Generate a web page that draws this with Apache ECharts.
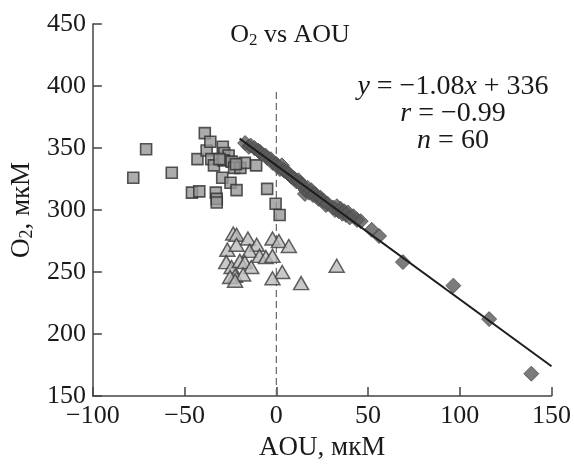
<!DOCTYPE html>
<html>
<head>
<meta charset="utf-8">
<script src="https://cdn.jsdelivr.net/npm/echarts@6/dist/echarts.min.js"></script>
<style>
  html, body { margin: 0; padding: 0; background: #fff; }
  #chart { width: 574px; height: 466px; }
</style>
</head>
<body>
<div id="chart"></div>
<script>
// Axis ticks
const xTicks = [-100, -50, 0, 50, 100, 150];
const yTicks = [150, 200, 250, 300, 350, 400, 450];

// Surface-layer samples (squares)
const squares = [
  [-78, 326], [-71, 349], [-57, 330], [-46, 314], [-42, 315], [-43, 341],
  [-39, 362], [-38, 348], [-36, 355], [-35.5, 341], [-34, 336], [-33, 314],
  [-32.5, 309], [-32.5, 306], [-29.2, 351], [-28.4, 346], [-26, 344],
  [-28.8, 340], [-24.4, 339], [-23, 334], [-19.6, 334], [-17.2, 338],
  [-11, 336], [-29.5, 326], [-25, 322], [-21.7, 316], [-5, 317],
  [-0.4, 305], [1.8, 296], [-22, 337], [-31, 341]
];

// Intermediate samples (triangles)
const triangles = [
  [-23.5, 281], [-21.7, 280], [-15.5, 277], [-10.7, 272], [-2.1, 277],
  [1.4, 275], [6.8, 271], [-26.7, 268], [-21.7, 272], [-14.6, 267],
  [-9.2, 263], [-5.7, 262], [-2.1, 263], [-27.3, 258], [-24.4, 254],
  [-19.9, 259], [-17.2, 258], [-13.7, 254], [-22.5, 247], [-18.1, 248],
  [3.2, 250], [-2.1, 245], [13.5, 241], [32.9, 255], [-25.2, 246],
  [-22.5, 243]
];

// Deep samples used in the regression (diamonds)
const diamonds = [
  [-17, 354], [-15, 351], [-14, 352], [-12, 350], [-10, 348], [-9, 347],
  [-8, 345], [-6, 344], [-5, 342], [-3, 341], [-2, 338], [0, 337],
  [1, 335], [2, 333], [3, 336], [4, 332], [5, 331], [6, 330], [7, 329],
  [8, 327], [9, 326], [10, 325], [11, 323], [12, 324], [13, 322],
  [14, 320], [15.6, 313], [16, 316], [17, 318], [18, 314], [19, 316],
  [20, 312], [21, 313], [22, 311], [23, 309], [24, 310], [25, 308],
  [26, 307], [27, 304], [28, 305], [31, 302], [32, 300], [33, 303],
  [34, 299], [35, 301], [36, 297], [37, 299], [38, 296], [39, 298],
  [40, 294], [42, 295], [44, 292], [46, 291], [52, 284], [56, 279],
  [69, 258], [96.5, 239], [116, 212], [139, 168]
];

// Regression: y = -1.08x + 336
const slope = -1.08;
const intercept = 336;
const fitRange = [-20, 150];
const fitLine = fitRange.map(x => [x, slope * x + intercept]);

// Zero-AOU reference line
const zeroLine = [[0, 150], [0, 396]];

const serif = '"Liberation Serif", "DejaVu Serif", serif';
const ink = '#1a1a1a';
const minus = v => String(v).replace('-', '\u2212');

const chart = echarts.init(document.getElementById('chart'), null, { renderer: 'canvas' });
chart.setOption({
  animation: false,
  backgroundColor: '#ffffff',
  textStyle: { fontFamily: serif, color: ink },
  grid: { left: 87, right: 17, top: 24, bottom: 61, containLabel: false },
  xAxis: {
    type: 'value',
    min: xTicks[0], max: xTicks[xTicks.length - 1], interval: 50,
    name: 'AOU, мкМ',
    nameLocation: 'middle',
    nameGap: 38,
    nameTextStyle: { fontFamily: serif, fontSize: 27, color: ink },
    axisLine: { onZero: false, lineStyle: { color: '#444', width: 1.5 } },
    axisTick: { inside: true, length: 9, lineStyle: { color: '#444', width: 1.5 } },
    axisLabel: { fontFamily: serif, fontSize: 26, color: ink, margin: 7, formatter: minus },
    splitLine: { show: false }
  },
  yAxis: {
    type: 'value',
    min: yTicks[0], max: yTicks[yTicks.length - 1], interval: 50,
    name: 'O{sub|2}, мкМ',
    nameLocation: 'middle',
    nameGap: 46,
    nameRotate: 90,
    nameTextStyle: {
      fontFamily: serif, fontSize: 27, color: ink,
      rich: { sub: { fontFamily: serif, fontSize: 18, padding: [11, 0, 0, 0] } }
    },
    axisLine: { onZero: false, lineStyle: { color: '#444', width: 1.5 } },
    axisTick: { inside: true, length: 9, lineStyle: { color: '#444', width: 1.5 } },
    axisLabel: { fontFamily: serif, fontSize: 26, color: ink, margin: 7, formatter: minus },
    splitLine: { show: false }
  },
  graphic: [
    {
      type: 'text', x: 290, y: 21,
      style: {
        text: 'O{sub|2} vs AOU',
        font: '26px ' + serif, fill: ink, align: 'center', verticalAlign: 'top',
        rich: { sub: { fontSize: 17, fontFamily: serif, padding: [11, 0, 0, 0] } }
      }
    },
    {
      type: 'text', x: 453, y: 73,
      style: {
        text: '{i|y} = \u22121.08{i|x} + 336\n{i|r} = \u22120.99\n{i|n} = 60',
        font: '28px ' + serif, fill: ink, align: 'center', verticalAlign: 'top',
        lineHeight: 27,
        rich: { i: { fontStyle: 'italic', fontSize: 28, fontFamily: serif, lineHeight: 27 } }
      }
    }
  ],
  series: [
    {
      type: 'line', data: zeroLine, symbol: 'none', silent: true, z: 1,
      lineStyle: { color: '#666', width: 1.2, type: [7, 4] }
    },
    {
      type: 'scatter', data: squares, symbol: 'rect', symbolSize: 11, z: 2,
      itemStyle: { color: '#979797', borderColor: '#2e2e2e', borderWidth: 1.6 }
    },
    {
      type: 'scatter', data: triangles, symbol: 'triangle', symbolSize: [15, 13], z: 3,
      itemStyle: { color: '#bcbcbc', borderColor: '#3c3c3c', borderWidth: 1.5 }
    },
    {
      type: 'scatter', data: diamonds, symbol: 'diamond', symbolSize: 15, z: 4,
      itemStyle: { color: '#5a5a5a', borderColor: '#484848', borderWidth: 1 }
    },
    {
      type: 'line', data: fitLine, symbol: 'none', silent: true, z: 5,
      lineStyle: { color: '#1e1e1e', width: 2 }
    }
  ]
});
</script>
</body>
</html>
